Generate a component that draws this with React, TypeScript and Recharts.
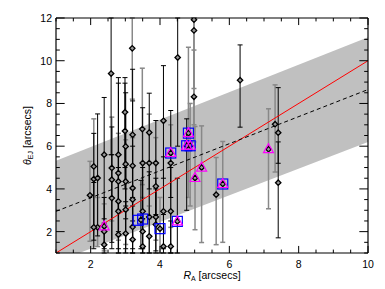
import { ComposedChart, XAxis, YAxis, Scatter, ErrorBar, Line, Area, ReferenceLine } from "recharts";

// points with black error bars
const blackX = [2.09, 2.09, 2.2, 2.39, 2.39, 2.39, 2.59, 2.61, 2.61, 2.8, 2.8, 2.8, 2.8, 2.99, 2.99, 3.01, 3.01, 3.01, 3.01, 3.21, 3.21, 3.21, 3.21, 3.21, 3.45, 3.5, 3.5, 3.5, 3.69, 3.69, 3.88, 3.88, 3.88, 4.1, 4.1, 4.1, 4.31, 4.31, 4.31, 4.5, 4.51, 4.77, 6.31, 7.41, 7.41];
const blackY = [4.46, 2.2, 4.51, 5.6, 2.25, 1.39, 9.4, 4.43, 3.57, 5.6, 4.74, 3.42, 2.95, 7.59, 6.71, 5.99, 5.16, 3.03, 1.91, 6.53, 5.08, 3.5, 2.22, 1.63, 2.55, 5.21, 2.95, 1.31, 6.64, 2.69, 5.21, 2.69, 2.33, 7.19, 2.95, 1.31, 5.68, 2.95, 1.31, 2.48, 10.15, 6.02, 9.09, 6.63, 4.29];
const blackLo = [1.6, 1.2, 1.8, 2.4, 1.2, 1.0, 5.6, 1.5, 1.2, 3.0, 2.0, 1.2, 1.0, 5.0, 4.0, 3.2, 2.6, 1.2, 1.0, 3.6, 2.5, 1.2, 1.0, 1.0, 1.2, 2.6, 1.2, 1.0, 4.0, 1.0, 2.8, 1.1, 1.0, 4.5, 1.2, 1.0, 3.6, 1.0, 1.0, 1.0, 6.0, 3.0, 6.89, 5.2, 1.71];
const blackHi = [6.6, 4.3, 7.51, 8.28, 3.6, 2.6, 12, 6.9, 5.6, 9.21, 8.95, 5.6, 5.0, 9.21, 8.95, 8.5, 7.6, 5.2, 3.4, 9.6, 8.12, 6.0, 4.0, 3.2, 4.4, 7.8, 5.0, 2.6, 8.48, 4.8, 7.2, 4.5, 4.0, 9.77, 5.5, 2.8, 7.67, 5.0, 2.5, 4.5, 12, 7.28, 10.74, 8.74, 6.2];

// points with gray error bars
const grayX = [1.98, 2.09, 2.2, 2.39, 2.61, 2.8, 2.8, 3.01, 3.2, 3.21, 3.49, 3.5, 3.69, 3.69, 3.88, 4.0, 4.31, 4.82, 4.87, 4.98, 4.98, 4.98, 5.01, 5.2, 5.62, 5.81, 7.13, 7.32];
const grayY = [3.7, 5.05, 2.2, 2.01, 4.98, 4.35, 1.86, 4.35, 10.58, 4.04, 6.8, 2.01, 5.21, 1.78, 4.12, 2.14, 5.21, 6.61, 6.02, 11.92, 11.42, 8.31, 4.51, 5.0, 3.73, 4.23, 5.86, 7.03];
const grayLo = [1.55, 2.2, 1.3, 1.1, 2.5, 1.6, 1.0, 1.4, 8.2, 1.6, 4.2, 1.0, 2.6, 1.0, 1.6, 1.0, 2.2, 3.6, 3.2, 8.7, 7.0, 6.2, 2.09, 1.49, 1.39, 1.5, 3.07, 4.79];
const grayHi = [5.29, 7.28, 3.6, 3.3, 7.36, 6.6, 3.4, 6.3, 12, 6.4, 9.65, 3.6, 7.5, 3.2, 6.4, 3.6, 7.0, 10.63, 8.0, 12, 12, 10.5, 6.92, 6.95, 5.47, 6.22, 7.75, 8.87];

const squareX = [3.37, 3.5, 4.0, 4.31, 4.5, 4.82, 4.77, 4.87, 5.81];
const squareY = [2.53, 2.59, 2.14, 5.68, 2.48, 6.61, 6.02, 6.02, 4.23];

const triangleX = [2.39, 4.31, 4.5, 4.82, 4.77, 4.87, 5.01, 5.2, 5.81, 7.13];
const triangleY = [2.25, 5.68, 2.48, 6.61, 6.02, 6.02, 4.51, 5.0, 4.23, 5.86];

const redX = [1, 10];
const redY = [1, 10];
const dashX = [1, 10];
const dashY = [2.95, 8.65];
const bandX = [1, 10];
const bandLo = [0.58, 6.2];
const bandHi = [5.32, 11.1];

const xTicks = [1, 1.5, 2, 2.5, 3, 3.5, 4, 4.5, 5, 5.5, 6, 6.5, 7, 7.5, 8, 8.5, 9, 9.5, 10];
const yTicks = [1, 1.5, 2, 2.5, 3, 3.5, 4, 4.5, 5, 5.5, 6, 6.5, 7, 7.5, 8, 8.5, 9, 9.5, 10, 10.5, 11, 11.5, 12];

const X_MIN = 1;
const X_MAX = 10;
const Y_MIN = 1;
const Y_MAX = 12;

const FONT = "'Liberation Sans', Arial, sans-serif";

const withErr = (xs: number[], ys: number[], lo: number[], hi: number[]) =>
  xs.map((x, i) => ({ x, y: ys[i], err: [ys[i] - lo[i], hi[i] - ys[i]] }));
const pts = (xs: number[], ys: number[]) => xs.map((x, i) => ({ x, y: ys[i] }));

const blackData = withErr(blackX, blackY, blackLo, blackHi);
const grayData = withErr(grayX, grayY, grayLo, grayHi);
const squareData = pts(squareX, squareY);
const triangleData = pts(triangleX, triangleY);
const redData = pts(redX, redY);
const dashData = pts(dashX, dashY);
const bandData = bandX.map((x, i) => ({ x, band: [bandLo[i], bandHi[i]] }));

const isMajor = (v: number) => v % 2 === 0;

// tick lengths in data units (about 7px / 3.5px vertical, 8px / 3.5px horizontal)
const vLen = (v: number) => (isMajor(v) ? 0.33 : 0.16);
const hLen = (v: number) => (isMajor(v) ? 0.25 : 0.11);

const Diamond = ({ cx, cy }: any) => (
  <polygon
    points={`${cx},${cy - 2.7} ${cx + 2.7},${cy} ${cx},${cy + 2.7} ${cx - 2.7},${cy}`}
    fill="#999"
    stroke="#000"
    strokeWidth={1.3}
  />
);

const Square = ({ cx, cy }: any) => (
  <rect x={cx - 5} y={cy - 5} width={10} height={10} fill="none" stroke="#0000ff" strokeWidth={1.2} />
);

const Triangle = ({ cx, cy }: any) => (
  <polygon
    points={`${cx},${cy - 5.5} ${cx + 5},${cy + 3.5} ${cx - 5},${cy + 3.5}`}
    fill="none"
    stroke="#ff00ff"
    strokeWidth={1.2}
  />
);

const BottomTick = ({ x, y, payload }: any) =>
  isMajor(payload.value) ? (
    <text x={x} y={y + 15} textAnchor="middle" fontSize={10.5} fontFamily={FONT} fill="#000">
      {payload.value}
    </text>
  ) : (
    <g />
  );

const LeftTick = ({ x, y, payload }: any) =>
  isMajor(payload.value) ? (
    <text x={x - 4} y={y + 4} textAnchor="end" fontSize={10.5} fontFamily={FONT} fill="#000">
      {payload.value}
    </text>
  ) : (
    <g />
  );

const XTitle = ({ viewBox }: any) => (
  <text
    x={viewBox.x + viewBox.width / 2}
    y={viewBox.y + 26}
    textAnchor="middle"
    fontSize={10.5}
    fontFamily={FONT}
    fill="#000"
  >
    <tspan fontStyle="italic">R</tspan>
    <tspan fontSize={7} dy={2}>A</tspan>
    <tspan dy={-2}> [arcsecs]</tspan>
  </text>
);

const YTitle = ({ viewBox }: any) => {
  const cx = 31;
  const cy = viewBox.y + viewBox.height / 2;
  return (
    <text
      x={cx}
      y={cy}
      transform={`rotate(-90 ${cx} ${cy})`}
      textAnchor="middle"
      fontSize={10.5}
      fontFamily={FONT}
      fill="#000"
    >
      <tspan fontStyle="italic">θ</tspan>
      <tspan fontSize={7} dy={2}>EJ</tspan>
      <tspan dy={-2}> [arcsecs]</tspan>
    </text>
  );
};

const ax = { xAxisId: "bottom", yAxisId: "left" };

export default function App() {
  return (
    <div style={{ position: "absolute", left: 0, top: 0, background: "#fff" }}>
      <ComposedChart width={385} height={289} margin={{ top: 18, right: 17, bottom: 0, left: 0 }}>
        <XAxis
          xAxisId="bottom"
          dataKey="x"
          type="number"
          domain={[X_MIN, X_MAX]}
          ticks={xTicks}
          interval={0}
          allowDataOverflow
          height={36}
          tickSize={0}
          tickMargin={0}
          tickLine={false}
          axisLine={{ stroke: "#000", strokeWidth: 1.2 }}
          tick={<BottomTick />}
          label={{ content: <XTitle /> }}
        />
        <YAxis
          yAxisId="left"
          dataKey="y"
          type="number"
          domain={[Y_MIN, Y_MAX]}
          ticks={yTicks}
          interval={0}
          allowDataOverflow
          width={56}
          tickSize={0}
          tickMargin={0}
          tickLine={false}
          axisLine={{ stroke: "#000", strokeWidth: 1.2 }}
          tick={<LeftTick />}
          label={{ content: <YTitle /> }}
        />
        <Area
          {...ax}
          data={bandData}
          dataKey="band"
          type="linear"
          fill="#c0c0c0"
          fillOpacity={1}
          stroke="none"
          isAnimationActive={false}
        />
        <Scatter {...ax} data={grayData} dataKey="y" shape={<Diamond />} isAnimationActive={false}>
          <ErrorBar dataKey="err" direction="y" width={2.5} stroke="#888" strokeWidth={1.5} />
        </Scatter>
        <Scatter {...ax} data={blackData} dataKey="y" shape={<Diamond />} isAnimationActive={false}>
          <ErrorBar dataKey="err" direction="y" width={2.5} stroke="#000" strokeWidth={1} />
        </Scatter>
        <Line
          {...ax}
          data={redData}
          dataKey="y"
          type="linear"
          stroke="#ff0000"
          strokeWidth={1}
          dot={false}
          isAnimationActive={false}
        />
        <Line
          {...ax}
          data={dashData}
          dataKey="y"
          type="linear"
          stroke="#000"
          strokeWidth={1}
          strokeDasharray="4 3"
          dot={false}
          isAnimationActive={false}
        />
        <Scatter {...ax} data={squareData} dataKey="y" shape={<Square />} isAnimationActive={false} />
        <Scatter {...ax} data={triangleData} dataKey="y" shape={<Triangle />} isAnimationActive={false} />

        {/* box: top and right borders */}
        <ReferenceLine {...ax} y={Y_MAX} stroke="#000" strokeWidth={1.2} />
        <ReferenceLine {...ax} x={X_MAX} stroke="#000" strokeWidth={1.2} />

        {/* inward ticks on all four sides */}
        {xTicks.map((v) => (
          <ReferenceLine
            key={`xb${v}`}
            {...ax}
            segment={[{ x: v, y: Y_MIN }, { x: v, y: Y_MIN + vLen(v) }]}
            stroke="#000"
            strokeWidth={1}
          />
        ))}
        {xTicks.map((v) => (
          <ReferenceLine
            key={`xt${v}`}
            {...ax}
            segment={[{ x: v, y: Y_MAX }, { x: v, y: Y_MAX - vLen(v) }]}
            stroke="#000"
            strokeWidth={1}
          />
        ))}
        {yTicks.map((v) => (
          <ReferenceLine
            key={`yl${v}`}
            {...ax}
            segment={[{ x: X_MIN, y: v }, { x: X_MIN + hLen(v), y: v }]}
            stroke="#000"
            strokeWidth={1}
          />
        ))}
        {yTicks.map((v) => (
          <ReferenceLine
            key={`yr${v}`}
            {...ax}
            segment={[{ x: X_MAX, y: v }, { x: X_MAX - hLen(v), y: v }]}
            stroke="#000"
            strokeWidth={1}
          />
        ))}
      </ComposedChart>
    </div>
  );
}
